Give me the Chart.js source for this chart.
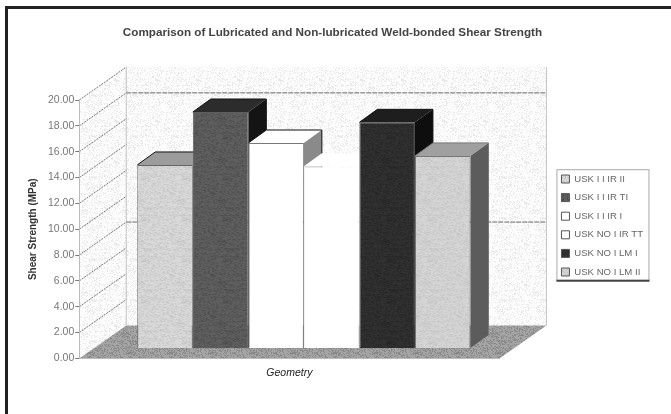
<!DOCTYPE html>
<html>
<head>
<meta charset="utf-8">
<title>Shear strength</title>
<style>
  html, body { margin: 0; background: #fff; }
  #page { position: absolute; left: 0; top: 0; width: 671px; height: 414px; filter: blur(0.7px); overflow: hidden; }
  #frame { position: absolute; left: 5px; top: 6px; width: 700px; height: 500px; border-left: 3px solid #222; border-top: 3px solid #222; }
  canvas { position: absolute; left: 0; top: 0; }
</style>
<script src="https://cdn.jsdelivr.net/npm/chart.js@4"></script>
</head>
<body>
<div id="page">
  <canvas id="chart" width="671" height="414"></canvas>
  <div id="frame"></div>
</div>
<script>
// ── DATA ──
const categories = ['Geometry'];
const seriesNames = ['USK I I IR II', 'USK I I IR TI', 'USK I I IR I', 'USK NO I IR TT', 'USK NO I LM I', 'USK NO I LM II'];
const seriesValues = [14.2, 18.3, 15.9, 14.1, 17.5, 14.9];
const tickLabels = ['0.00', '2.00', '4.00', '6.00', '8.00', '10.00', '12.00', '14.00', '16.00', '18.00', '20.00'];
const backLines = [18, 8];

// ── STYLE ──
const FRONT = ['#d8d8d8', '#5e5e5e', '#ffffff', '#ffffff', '#303030', '#d4d4d4'];
const TOPS  = ['#9c9c9c', '#2c2c2c', '#ffffff', '#ffffff', '#1e1e1e', '#a0a0a0'];
const SIDES = ['#808080', '#141414', '#8a8a8a', '#ffffff', '#0e0e0e', '#5c5c5c'];
const EDGES = ['#666666', '#5e5e5e', '#777777', '#ffffff', '#303030', '#777777'];
const BACK_EDGE = ['#111', '#111', '#111', null, '#111', '#777'];

const WALL_DX = 47, WALL_DY = -33;   // depth of the 3D box
const BAR_DX = 18, BAR_DY = -13;     // depth of a bar
const SHIFT_X = 14.5, SHIFT_Y = -10; // bars stand mid-floor
const LEGEND_DROP = 36;

// ── HELPER: grainy fill, like the scan ──
function speckle(base, dark, amount) {
  const size = 41;
  const tile = document.createElement('canvas');
  tile.width = tile.height = size;
  const t = tile.getContext('2d');
  t.fillStyle = base;
  t.fillRect(0, 0, size, size);
  t.fillStyle = dark;
  for (let py = 0; py < size; py++) {
    for (let px = 0; px < size; px++) {
      const h = Math.sin(px * 12.9898 + py * 78.233) * 43758.5453;
      if (h - Math.floor(h) < amount) t.fillRect(px, py, 1, 1);
    }
  }
  return t.createPattern(tile, 'repeat');
}

function poly(ctx, pts, fill) {
  ctx.beginPath();
  pts.forEach((p, i) => i ? ctx.lineTo(p[0], p[1]) : ctx.moveTo(p[0], p[1]));
  ctx.closePath();
  ctx.fillStyle = fill;
  ctx.fill();
}

// ── 3D BOX BEHIND THE BARS ──
const box3d = {
  id: 'box3d',

  afterLayout(chart) {
    const legend = chart.legend;
    legend.top += LEGEND_DROP;
    legend.bottom += LEGEND_DROP;
    legend.legendHitBoxes.forEach(h => { h.top += LEGEND_DROP; });
  },

  beforeDraw(chart) {
    const { ctx, chartArea: a, scales: { y } } = chart;
    const yTop = y.getPixelForValue(20), yBase = y.getPixelForValue(0);
    const grain = speckle('#fcfcfc', '#e8e8e8', 0.22);
    ctx.save();
    poly(ctx, [[a.left + WALL_DX, yTop + WALL_DY], [a.right + WALL_DX, yTop + WALL_DY],
               [a.right + WALL_DX, yBase + WALL_DY], [a.left + WALL_DX, yBase + WALL_DY]], grain);
    poly(ctx, [[a.left, yTop], [a.left + WALL_DX, yTop + WALL_DY],
               [a.left + WALL_DX, yBase + WALL_DY], [a.left, yBase]], grain);
    poly(ctx, [[a.left, yBase], [a.left + WALL_DX, yBase + WALL_DY],
               [a.right + WALL_DX, yBase + WALL_DY], [a.right, yBase]], speckle('#a4a4a4', '#888888', 0.35));

    ctx.strokeStyle = '#c4c4c4';
    ctx.lineWidth = 1;
    ctx.beginPath();
    ctx.moveTo(a.left + WALL_DX, yTop + WALL_DY);
    ctx.lineTo(a.left + WALL_DX, yBase + WALL_DY);
    ctx.moveTo(a.right + WALL_DX, yTop + WALL_DY);
    ctx.lineTo(a.right + WALL_DX, yBase + WALL_DY);
    ctx.stroke();

    // Diagonals on the left wall
    ctx.strokeStyle = '#777';
    ctx.setLineDash([2, 1]);
    ctx.beginPath();
    tickLabels.forEach(t => {
      const py = y.getPixelForValue(parseFloat(t));
      if (parseFloat(t) === 0) return;
      ctx.moveTo(a.left, py);
      ctx.lineTo(a.left + WALL_DX, py + WALL_DY);
    });
    ctx.stroke();

    // The gridlines that survive on the back wall
    ctx.strokeStyle = '#666';
    ctx.setLineDash([5, 1]);
    ctx.beginPath();
    backLines.forEach(v => {
      const py = y.getPixelForValue(v) + WALL_DY;
      ctx.moveTo(a.left + WALL_DX, py);
      ctx.lineTo(a.right + WALL_DX, py);
    });
    ctx.stroke();
    ctx.restore();
  },

  // Bars go left to right, each with its top and side, so the library's
  // own last-to-first pass is cancelled.
  beforeDatasetsDraw(chart) {
    const { ctx } = chart;
    ctx.save();
    ctx.translate(SHIFT_X, SHIFT_Y);
    chart.data.datasets.forEach((ds, i) => {
      const bar = chart.getDatasetMeta(i).data[0];
      const l = bar.x - bar.width / 2, r = bar.x + bar.width / 2;
      poly(ctx, [[l, bar.y], [l + BAR_DX, bar.y + BAR_DY], [r + BAR_DX, bar.y + BAR_DY], [r, bar.y]], TOPS[i]);
      poly(ctx, [[r, bar.y], [r + BAR_DX, bar.y + BAR_DY], [r + BAR_DX, bar.base + BAR_DY], [r, bar.base]], SIDES[i]);
      if (BACK_EDGE[i]) {
        ctx.strokeStyle = BACK_EDGE[i];
        ctx.lineWidth = 1;
        ctx.beginPath();
        ctx.moveTo(l, bar.y);
        ctx.lineTo(l + BAR_DX, bar.y + BAR_DY);
        ctx.lineTo(r + BAR_DX, bar.y + BAR_DY);
        ctx.lineTo(r + BAR_DX, bar.base + BAR_DY);
        ctx.stroke();
      }
      bar.draw(ctx);
    });
    ctx.restore();
    return false;
  },

  // Frame round the legend
  afterDraw(chart) {
    const { ctx, legend } = chart;
    const hits = legend.legendHitBoxes;
    const left = hits[0].left - 5, top = hits[0].top - 5;
    const bottom = hits[hits.length - 1].top + hits[hits.length - 1].height + 3;
    ctx.save();
    ctx.strokeStyle = '#aaa';
    ctx.lineWidth = 1;
    ctx.strokeRect(left + 0.5, top + 0.5, 92, bottom - top);
    ctx.strokeStyle = '#444';
    ctx.lineWidth = 2;
    ctx.beginPath();
    ctx.moveTo(left, bottom + 1);
    ctx.lineTo(left + 93, bottom + 1);
    ctx.stroke();
    ctx.restore();
  },
};

// ── CHART ──
new Chart(document.getElementById('chart'), {
  type: 'bar',
  plugins: [box3d],
  data: {
    labels: categories,
    datasets: seriesNames.map((name, i) => ({
      label: name,
      data: [seriesValues[i]],
      backgroundColor: i === 2 || i === 3 ? FRONT[i]
        : speckle(FRONT[i], i === 1 || i === 4 ? (i === 1 ? '#4e4e4e' : '#262626') : '#c6c6c6', 0.3),
      borderColor: EDGES[i],
      borderWidth: 1,
      barPercentage: 1,
      categoryPercentage: 0.793,
    })),
  },
  options: {
    responsive: false,
    animation: false,
    layout: { padding: { left: 12, right: 18, top: 0, bottom: 35 } },
    plugins: {
      tooltip: { enabled: false },
      title: {
        display: true,
        text: 'Comparison of Lubricated and Non-lubricated Weld-bonded Shear Strength',
        color: '#444',
        font: { family: "'Liberation Sans'", size: 11.7, weight: 'bold' },
        padding: { top: 26, bottom: 60 },
      },
      legend: {
        position: 'right',
        labels: {
          color: '#666',
          boxWidth: 8,
          boxHeight: 8,
          padding: 9,
          font: { family: "'Liberation Sans'", size: 9.6 },
          generateLabels(chart) {
            const items = Chart.defaults.plugins.legend.labels.generateLabels(chart);
            items.forEach(it => { it.strokeStyle = '#555'; });
            return items;
          },
        },
      },
    },
    scales: {
      x: {
        grid: { display: false },
        border: { color: '#bbb' },
        ticks: { display: false },
        title: {
          display: true,
          text: 'Geometry',
          color: '#222',
          padding: { top: 0, bottom: 0 },
          font: { family: "'Liberation Sans'", size: 10.5, style: 'italic' },
        },
      },
      y: {
        min: 0,
        max: 20,
        afterBuildTicks: s => { s.ticks = tickLabels.map(t => ({ value: parseFloat(t) })); },
        grid: { drawOnChartArea: false, tickLength: 4, color: '#777' },
        border: { color: '#bbb' },
        ticks: {
          color: '#777',
          padding: 1,
          font: { family: "'Liberation Sans'", size: 10.5 },
          callback: v => v.toFixed(2),
        },
        title: {
          display: true,
          text: 'Shear Strength (MPa)',
          color: '#333',
          padding: { top: 15, bottom: 8 },
          font: { family: "'Liberation Sans'", size: 10, weight: 'bold' },
        },
      },
      // empty axis that keeps the room between the floor and the legend
      gap: {
        type: 'linear',
        position: 'right',
        grid: { display: false },
        border: { display: false },
        ticks: { display: false },
        afterFit: s => { s.width = 53; },
      },
    },
  },
});
</script>
</body>
</html>
